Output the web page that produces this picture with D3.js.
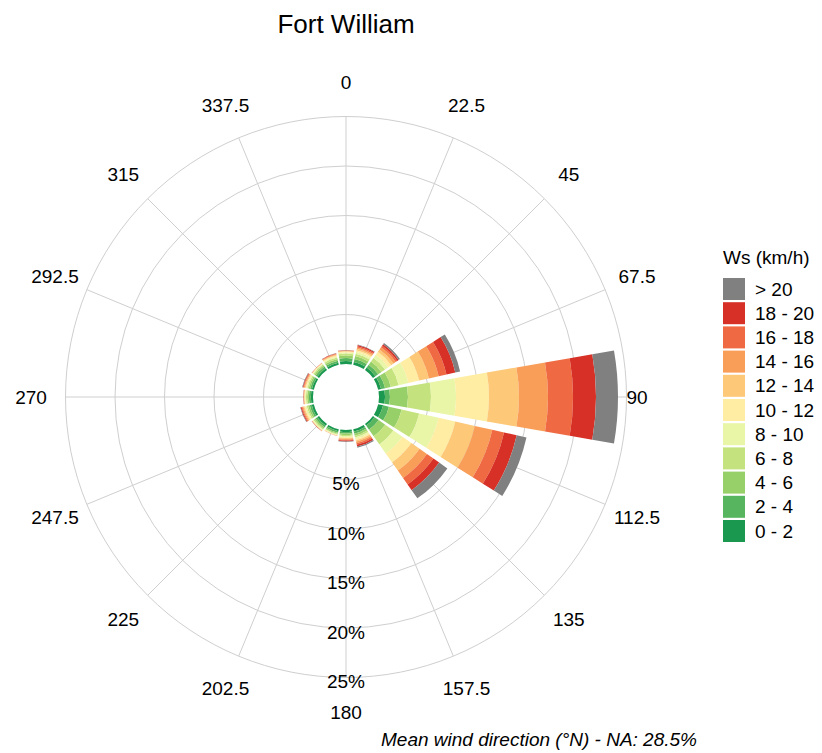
<!DOCTYPE html>
<html>
<head>
<meta charset="utf-8">
<script src="https://cdn.jsdelivr.net/npm/d3@7"></script>
<style>
  body { margin: 0; background: #fff; }
  text { font-family: "Liberation Sans", Arial, sans-serif; fill: #000; }
</style>
</head>
<body>
<div id="chart"></div>
<script>
var svgWidth = 822;
var svgHeight = 753;

// wind direction sectors (degrees from north)
var directions = [0, 22.5, 45, 67.5, 90, 112.5, 135, 157.5, 180, 202.5, 225, 247.5, 270, 292.5, 315, 337.5];
var dirLabels = ["0", "22.5", "45", "67.5", "90", "112.5", "135", "157.5", "180", "202.5", "225", "247.5", "270", "292.5", "315", "337.5"];

// speed classes and colours
var speedBins = ["0 - 2", "2 - 4", "4 - 6", "6 - 8", "8 - 10", "10 - 12", "12 - 14", "14 - 16", "16 - 18", "18 - 20", "> 20"];
var binColours = ["#1a9850", "#58b55f", "#97cf69", "#c4e37e", "#e9f5a7", "#feeda3", "#fdc877", "#f99e58", "#ef6a42", "#d73027", "#808080"];

// frequency (%) in each speed class, one value per direction
var ws0_2   = [0.30, 0.30, 0.30, 0.30, 0.61, 0.51, 0.20, 0.25, 0.20, 0.20, 0.22, 0.22, 0.22, 0.20, 0.22, 0.22];
var ws2_4   = [0.30, 0.30, 0.35, 0.41, 0.50, 0.60, 0.51, 0.22, 0.16, 0.16, 0.20, 0.20, 0.20, 0.18, 0.20, 0.20];
var ws4_6   = [0.25, 0.30, 0.40, 0.60, 1.82, 1.31, 0.81, 0.20, 0.14, 0.12, 0.16, 0.18, 0.17, 0.16, 0.16, 0.18];
var ws6_8   = [0.20, 0.25, 0.45, 0.81, 2.32, 1.82, 1.01, 0.18, 0.12, 0.08, 0.12, 0.15, 0.13, 0.13, 0.12, 0.15];
var ws8_10  = [0.12, 0.20, 0.40, 1.01, 2.53, 2.02, 1.11, 0.16, 0.10, 0.06, 0.08, 0.13, 0.09, 0.11, 0.08, 0.12];
var ws10_12 = [0.08, 0.15, 0.35, 1.11, 3.33, 1.72, 1.11, 0.15, 0.09, 0.04, 0.05, 0.11, 0.06, 0.09, 0.05, 0.10];
var ws12_14 = [0.06, 0.15, 0.30, 1.01, 3.03, 2.02, 1.01, 0.15, 0.09, 0.02, 0.03, 0.10, 0.04, 0.08, 0.03, 0.08];
var ws14_16 = [0.04, 0.15, 0.25, 1.01, 2.93, 1.82, 0.91, 0.15, 0.09, 0.01, 0.02, 0.10, 0.03, 0.08, 0.02, 0.06];
var ws16_18 = [0.03, 0.12, 0.20, 0.81, 2.53, 1.21, 0.80, 0.16, 0.08, 0.01, 0.01, 0.09, 0.03, 0.07, 0.01, 0.05];
var ws18_20 = [0.02, 0.12, 0.17, 0.91, 2.32, 1.31, 0.71, 0.18, 0.08, 0.01, 0.01, 0.08, 0.02, 0.06, 0.01, 0.03];
var ws20    = [0.01, 0.06, 0.16, 0.50, 2.22, 1.01, 1.01, 0.12, 0.06, 0.00, 0.01, 0.05, 0.01, 0.05, 0.01, 0.02];

var percentTicks = [5, 10, 15, 20, 25];
var title = "Fort William";
var legendTitle = "Ws (km/h)";
var caption = "Mean wind direction (\u00b0N) - NA: 28.5%";

var cx = 346, cy = 397;
var halfWidth = 9.85; // degrees either side of sector centre
var rad = Math.PI / 180;

var svg = d3.select("#chart").append("svg")
  .attr("width", svgWidth)
  .attr("height", svgHeight);

svg.append("rect").attr("width", svgWidth).attr("height", svgHeight).attr("fill", "#fff");

var rScale = d3.scaleLinear().domain([0, 25]).range([33, 280.5]);

// build table for stacking
var allBins = [ws0_2, ws2_4, ws4_6, ws6_8, ws8_10, ws10_12, ws12_14, ws14_16, ws16_18, ws18_20, ws20];
var table = directions.map(function(d, i) {
  var row = { dir: d };
  speedBins.forEach(function(b, j) { row[b] = allBins[j][i]; });
  return row;
});
var series = d3.stack().keys(speedBins)(table);

var colour = d3.scaleOrdinal().domain(speedBins).range(binColours);

var plot = svg.append("g").attr("transform", `translate(${cx}, ${cy})`);

// grid circles
plot.selectAll(".grid-circle")
  .data(percentTicks)
  .enter()
  .append("circle")
  .attr("r", d => rScale(d))
  .attr("fill", "none")
  .attr("stroke", "#cfcfcf")
  .attr("stroke-width", 1);

// spokes
plot.selectAll(".spoke")
  .data(directions)
  .enter()
  .append("line")
  .attr("x1", d => rScale(0) * Math.sin(d * rad))
  .attr("y1", d => -rScale(0) * Math.cos(d * rad))
  .attr("x2", d => rScale(25) * Math.sin(d * rad))
  .attr("y2", d => -rScale(25) * Math.cos(d * rad))
  .attr("stroke", "#cfcfcf")
  .attr("stroke-width", 1);

// stacked sectors
var arc = d3.arc();
plot.selectAll(".layer")
  .data(series)
  .enter()
  .append("g")
  .attr("fill", d => colour(d.key))
  .selectAll("path")
  .data(d => d)
  .enter()
  .append("path")
  .attr("d", d => arc({
    innerRadius: rScale(d[0]),
    outerRadius: rScale(d[1]),
    startAngle: (d.data.dir - halfWidth) * rad,
    endAngle: (d.data.dir + halfWidth) * rad
  }));

// percent labels along 180
plot.selectAll(".pct")
  .data(percentTicks)
  .enter()
  .append("text")
  .attr("x", 0)
  .attr("y", d => rScale(d) + 4)
  .attr("text-anchor", "middle")
  .attr("dominant-baseline", "central")
  .style("font-size", "19px")
  .text(d => d + "%");

// direction labels
var labelRadius = 315;
plot.selectAll(".dir")
  .data(directions)
  .enter()
  .append("text")
  .attr("x", d => (d === 90 ? 291 : labelRadius) * Math.sin(d * rad))
  .attr("y", d => -labelRadius * Math.cos(d * rad))
  .attr("text-anchor", "middle")
  .attr("dominant-baseline", "central")
  .style("font-size", "19px")
  .text((d, i) => dirLabels[i]);

// title
svg.append("text")
  .attr("x", 346)
  .attr("y", 33)
  .attr("text-anchor", "middle")
  .style("font-size", "26px")
  .text(title);

// legend
var legend = svg.append("g").attr("transform", "translate(723, 0)");
legend.append("text")
  .attr("x", 0)
  .attr("y", 264)
  .style("font-size", "19px")
  .text(legendTitle);

var legendKeys = speedBins.slice().reverse();
var keys = legend.selectAll(".key")
  .data(legendKeys)
  .enter()
  .append("g")
  .attr("transform", (d, i) => `translate(0, ${278 + i * 24.2})`);
keys.append("rect")
  .attr("width", 22)
  .attr("height", 22)
  .attr("fill", d => colour(d));
keys.append("text")
  .attr("x", 32)
  .attr("y", 11)
  .attr("dominant-baseline", "central")
  .style("font-size", "19px")
  .text(d => d);

// caption
svg.append("text")
  .attr("x", 697)
  .attr("y", 746)
  .attr("text-anchor", "end")
  .style("font-size", "19px")
  .style("font-style", "italic")
  .text(caption);
</script>
</body>
</html>
